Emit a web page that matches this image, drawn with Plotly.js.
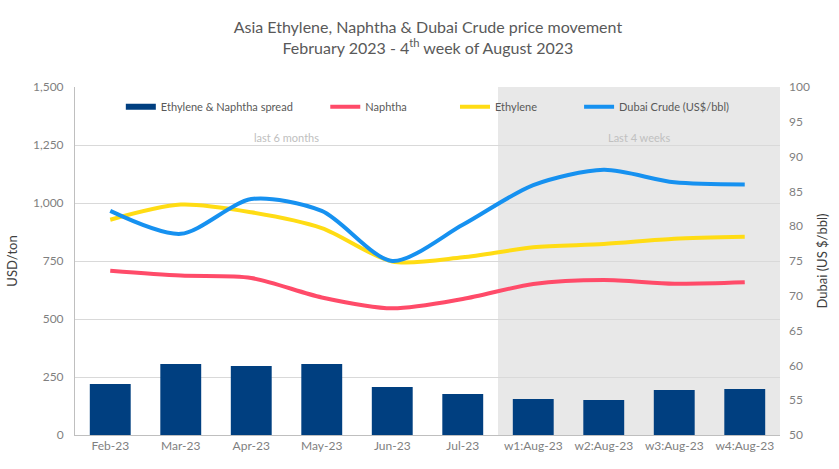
<!DOCTYPE html>
<html><head><meta charset="utf-8">
<script src="https://cdn.plot.ly/plotly-3.0.1.min.js"></script>
<style>html,body{margin:0;padding:0;background:#fff}</style>
</head><body><div id="chart" style="width:839px;height:469px"></div>
<script>
const categories = ["Feb-23","Mar-23","Apr-23","May-23","Jun-23","Jul-23","w1:Aug-23","w2:Aug-23","w3:Aug-23","w4:Aug-23"];
const spread = [220, 306, 297, 306, 207, 177, 155, 151, 194, 198];
const naphtha = [708, 687, 677, 593, 546, 586, 651, 668, 652, 658];
const ethylene = [928, 993, 960, 892, 748, 766, 809, 823, 846, 855];
const dubai = [82.2, 78.9, 83.9, 82.2, 75.0, 80.2, 85.9, 88.1, 86.3, 86.0];
const leftTicks = [0, 250, 500, 750, 1000, 1250, 1500];
const rightTicks = [50, 55, 60, 65, 70, 75, 80, 85, 90, 95, 100];

const grey = "#7f7f7f";
const font = {family: "Lato, 'Open Sans', sans-serif", size: 12, color: grey};
const legFont = {size: 11, color: "#595959"};

const traces = [
  {type: "bar", name: "Ethylene & Naphtha spread", x: categories, y: spread,
   marker: {color: "#003f80"}, yaxis: "y", showlegend: false},
  {type: "scatter", mode: "lines", name: "Ethylene & Naphtha spread", x: [null], y: [null],
   line: {color: "#003f80", width: 6}, legend: "legend", hoverinfo: "skip"},
  {type: "scatter", mode: "lines", name: "Naphtha", x: categories, y: naphtha,
   line: {color: "#ff4b69", width: 4, shape: "spline", smoothing: 0.8}, yaxis: "y", legend: "legend2"},
  {type: "scatter", mode: "lines", name: "Ethylene", x: categories, y: ethylene,
   line: {color: "#ffdc14", width: 4, shape: "spline", smoothing: 0.8}, yaxis: "y", legend: "legend3"},
  {type: "scatter", mode: "lines", name: "Dubai Crude (US$/bbl)", x: categories, y: dubai,
   line: {color: "#1691f0", width: 4, shape: "spline", smoothing: 0.8}, yaxis: "y2", legend: "legend4"}
];

function leg(x) {
  return {orientation: "h", x: x, y: 0.985, xanchor: "left", yanchor: "top",
          bgcolor: "rgba(0,0,0,0)", font: legFont, itemwidth: 30};
}

const layout = {
  width: 839, height: 469,
  margin: {l: 75, r: 59, t: 87, b: 34},
  paper_bgcolor: "#fff", plot_bgcolor: "rgba(0,0,0,0)",
  font: font,
  title: {text: "Asia Ethylene, Naphtha & Dubai Crude price movement<br>February 2023 - 4<sup>th</sup> week of August 2023",
          x: 0.51, xanchor: "center", y: 0.929, yanchor: "top",
          font: {family: "Lato, sans-serif", size: 16, color: "#595959"}},
  bargap: 0.42,
  showlegend: true,
  legend: leg(0.065),
  legend2: leg(0.355),
  legend3: leg(0.539),
  legend4: leg(0.715),
  xaxis: {type: "category", showgrid: false, showline: true, linecolor: "#bfbfbf",
          ticks: "", tickfont: {size: 12, color: grey}, range: [-0.5, 9.5],
          zeroline: false},
  yaxis: {range: [0, 1500], tickvals: leftTicks, tickformat: ",d", showgrid: true,
          gridcolor: "#d9d9d9", showline: true, linecolor: "#bfbfbf", zeroline: false,
          ticks: "", tickfont: {size: 12, color: grey}, ticklabelstandoff: 8,
          title: {text: "USD/ton", font: {size: 13, color: "#404040"}, standoff: 12}},
  yaxis2: {range: [50, 100], tickvals: rightTicks, overlaying: "y", side: "right",
           showgrid: false, zeroline: false, showline: false, ticks: "",
           tickfont: {size: 12, color: grey}, ticklabelstandoff: 8,
           title: {text: "Dubai (US $/bbl)", font: {size: 13, color: "#404040"}, standoff: 8}},
  shapes: [
    {type: "rect", xref: "x", yref: "paper", x0: 5.5, x1: 9.5, y0: 0, y1: 1,
     fillcolor: "#e8e8e8", line: {width: 0}, layer: "below"}
  ],
  annotations: [
    {text: "last 6 months", xref: "x", yref: "paper", x: 2.5, y: 0.855, yanchor: "middle", showarrow: false,
     font: {size: 11, color: "#c0c0c0"}},
    {text: "Last 4 weeks", xref: "x", yref: "paper", x: 7.5, y: 0.855, yanchor: "middle", showarrow: false,
     font: {size: 11, color: "#c0c0c0"}}
  ]
};
Plotly.newPlot("chart", traces, layout, {displayModeBar: false, responsive: false});
</script></body></html>
